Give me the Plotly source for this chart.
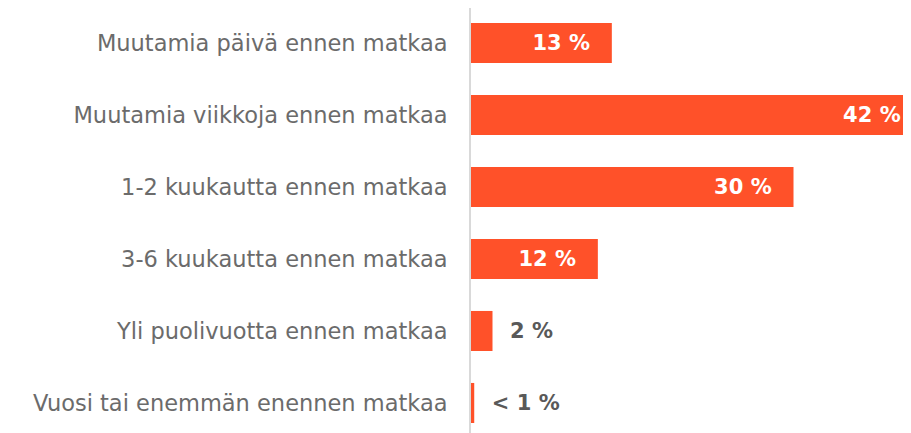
import plotly.graph_objects as go

categories = [
    "Muutamia päivä ennen matkaa",
    "Muutamia viikkoja ennen matkaa",
    "1-2 kuukautta ennen matkaa",
    "3-6 kuukautta ennen matkaa",
    "Yli puolivuotta ennen matkaa",
    "Vuosi tai enemmän enennen matkaa",
]
values = [13.1, 42.0, 30.0, 11.8, 2.0, 0.3]
value_labels = ["13 %", "42 %", "30 %", "12 %", "2 %", "< 1 %"]
label_positions = ["inside", "inside", "inside", "inside", "outside", "outside"]

NB = "\u00a0"
THIN = "\u2009"
texts = []
colors = []
for lab, pos in zip(value_labels, label_positions):
    if pos == "inside":
        texts.append(lab + THIN + NB * 2)
        colors.append("#ffffff")
    else:
        texts.append(NB * 2 + lab)
        colors.append("#595959")

fig = go.Figure(
    go.Bar(
        x=values,
        y=categories,
        orientation="h",
        marker=dict(color="#FF5129", line=dict(width=0)),
        width=0.556,
        text=texts,
        textposition=label_positions,
        insidetextanchor="end",
        textangle=0,
        constraintext="none",
        textfont=dict(family="DejaVu Sans", size=21, color=colors, weight="bold"),
        hoverinfo="skip",
    )
)

fig.update_layout(
    width=903,
    height=425,
    margin=dict(l=463, r=0, t=0, b=0),
    paper_bgcolor="white",
    plot_bgcolor="white",
    showlegend=False,
    xaxis=dict(
        range=[0, 40.93],
        visible=False,
        showgrid=False,
        zeroline=False,
    ),
    yaxis=dict(
        categoryorder="array",
        categoryarray=categories,
        range=[5.417, -0.486],
        showline=True,
        linecolor="#d9d9d9",
        linewidth=2,
        ticks="",
        showgrid=False,
        zeroline=False,
        ticklabelstandoff=17,
        tickfont=dict(family="DejaVu Sans", size=22.5, color="#6b6b6b"),
    ),
)

fig.write_html("out.html")
